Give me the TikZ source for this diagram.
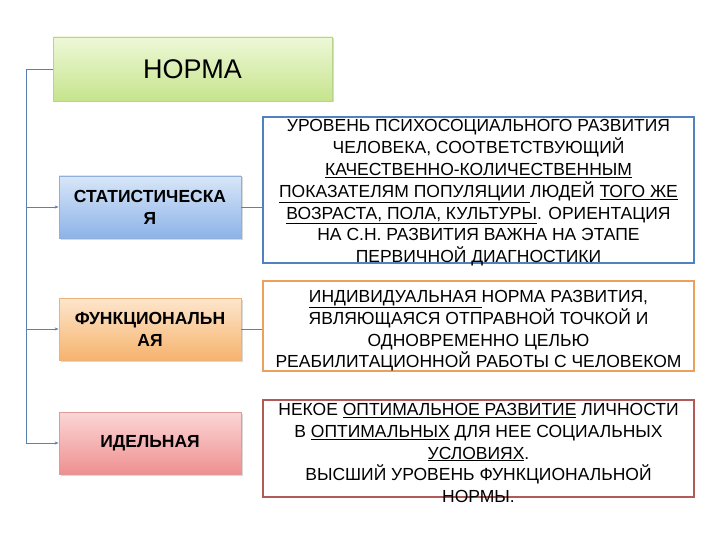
\documentclass[tikz,border=0pt]{standalone}
\usepackage{fontspec}
\setmainfont{Liberation Sans}
\usetikzlibrary{shadows,arrows.meta}
\definecolor{linec}{HTML}{5B80B5}
\definecolor{gtop}{HTML}{EEF8D8}\definecolor{gbot}{HTML}{C6E48C}\definecolor{gbor}{HTML}{B5D58A}
\definecolor{btop}{HTML}{D8E6F8}\definecolor{bbot}{HTML}{8DB3E8}\definecolor{bbor}{HTML}{8FB0DC}
\definecolor{otop}{HTML}{FDE6CC}\definecolor{obot}{HTML}{F6B36E}\definecolor{obor}{HTML}{EDB27A}
\definecolor{rtop}{HTML}{FBD6D6}\definecolor{rbot}{HTML}{EF9090}\definecolor{rbor}{HTML}{DE9A9A}
\definecolor{bluebor}{HTML}{5282BE}\definecolor{orbor}{HTML}{EBA05E}\definecolor{redbor}{HTML}{B05A5A}
\tikzset{
  catbox/.style={draw=#1, line width=0.8pt, minimum width=182pt, minimum height=62pt, inner sep=0pt,
     drop shadow={shadow xshift=1.5pt, shadow yshift=-1.5pt, opacity=0.3}},
  catlabel/.style={font=\fontsize{17.5}{22}\selectfont\bfseries, align=center, inner sep=0pt},
  descbox/.style={draw=#1, line width=1.6pt, inner sep=0pt, minimum width=431pt},
  desctext/.style={font=\fontsize{17.5}{21.8}\selectfont, align=center, inner sep=0pt, anchor=north},
  link/.style={draw=linec, line width=0.8pt},
  arr/.style={link, -{Stealth[length=4pt,width=3pt]}}
}
\begin{document}
\begin{tikzpicture}[x=1pt,y=-1pt]
\useasboundingbox (0,0) rectangle (720,540);
% main box
\node[catbox=gbor, top color=gtop, bottom color=gbot, minimum width=279pt, minimum height=64pt] (norma) at (192.5,69) {};
\node[font=\fontsize{27}{30}\selectfont, inner sep=0pt] (normat) at (192.5,69) {НОРМА};
% category boxes
\node[catbox=bbor, top color=btop, bottom color=bbot] (stat) at (150,207) {};
\node[catlabel] (statt) at (150,207) {СТАТИСТИЧЕСКА\\Я};
\node[catbox=obor, top color=otop, bottom color=obot] (func) at (150,329) {};
\node[catlabel] (funct) at (150,329) {ФУНКЦИОНАЛЬН\\АЯ};
\node[catbox=rbor, top color=rtop, bottom color=rbot] (ideal) at (150,443) {};
\node[catlabel] (idealt) at (150,443) {ИДЕЛЬНАЯ};
% description boxes
\node[descbox=bluebor, minimum height=146pt] (d1) at (478.5,190) {};
\node[desctext] (d1t) at (478.5,119.5) {УРОВЕНЬ ПСИХОСОЦИАЛЬНОГО РАЗВИТИЯ\\
ЧЕЛОВЕКА, СООТВЕТСТВУЮЩИЙ\\
\underline{КАЧЕСТВЕННО-КОЛИЧЕСТВЕННЫМ}\\
\underline{ПОКАЗАТЕЛЯМ ПОПУЛЯЦИИ }ЛЮДЕЙ \underline{ТОГО ЖЕ}\\
\underline{ВОЗРАСТА, ПОЛА, КУЛЬТУРЫ}. ОРИЕНТАЦИЯ\\
НА С.Н. РАЗВИТИЯ ВАЖНА НА ЭТАПЕ\\
ПЕРВИЧНОЙ ДИАГНОСТИКИ};
\node[descbox=orbor, minimum height=90pt] (d2) at (478.5,326) {};
\node[desctext] (d2t) at (478.5,290) {\underline{ИНДИВИДУАЛЬНАЯ }НОРМА РАЗВИТИЯ,\\
ЯВЛЯЮЩАЯСЯ ОТПРАВНОЙ ТОЧКОЙ И\\
ОДНОВРЕМЕННО ЦЕЛЬЮ\\
РЕАБИЛИТАЦИОННОЙ РАБОТЫ С ЧЕЛОВЕКОМ};
\node[descbox=redbor, minimum height=97pt] (d3) at (478.5,448.5) {};
\node[desctext] (d3t) at (478.5,403) {НЕКОЕ \underline{ОПТИМАЛЬНОЕ РАЗВИТИЕ} ЛИЧНОСТИ\\
В \underline{ОПТИМАЛЬНЫХ} ДЛЯ НЕЕ СОЦИАЛЬНЫХ\\
\underline{УСЛОВИЯХ}.\\
ВЫСШИЙ УРОВЕНЬ ФУНКЦИОНАЛЬНОЙ\\
НОРМЫ.};
% connectors
\coordinate (trunk) at (26,69);
\coordinate (bottom) at (26,443);
\draw[link] (norma.west) -- (trunk) -- (bottom);
\draw[arr] (26,207) -- (stat.west);
\draw[arr] (26,329) -- (func.west);
\draw[arr] (bottom) -- (ideal.west);
\draw[link] (stat.east) -- (d1.west |- stat.east);
\draw[link] (func.east) -- (d2.west |- func.east);
\end{tikzpicture}
\end{document}
